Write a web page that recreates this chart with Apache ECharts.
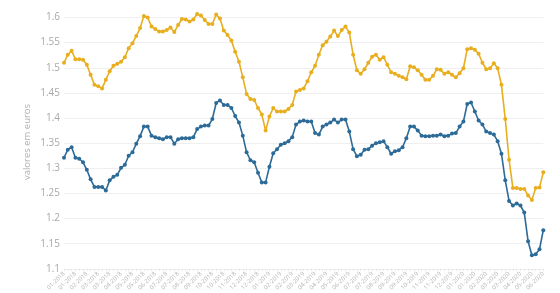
<!DOCTYPE html>
<html><head><meta charset="utf-8">
<script src="https://cdn.jsdelivr.net/npm/echarts@6/dist/echarts.min.js"></script>
<style>html,body{margin:0;padding:0;background:#fff}#c{width:560px;height:293px}</style>
</head><body><div id="c"></div>
<script>
// weekly dates (first week of 2018 onwards)
const startDate = [2018, 0, 1];
const nWeeks = 127;
const categories = [];
for (let i = 0; i < nWeeks; i++) {
  const d = new Date(Date.UTC(startDate[0], startDate[1], startDate[2] + 7 * i));
  categories.push(String(d.getUTCMonth() + 1).padStart(2, '0') + '-' + d.getUTCFullYear());
}

const seriesOrange = [
  1.510,1.526,1.534,1.517,1.517,1.516,1.506,1.486,1.466,1.463,
  1.459,1.476,1.493,1.504,1.508,1.512,1.521,1.539,1.549,1.563,
  1.579,1.603,1.600,1.582,1.577,1.572,1.572,1.575,1.580,1.571,
  1.585,1.597,1.596,1.592,1.596,1.607,1.604,1.595,1.587,1.587,
  1.606,1.598,1.574,1.565,1.554,1.532,1.512,1.481,1.448,1.438,
  1.436,1.420,1.407,1.375,1.403,1.420,1.413,1.413,1.413,1.418,
  1.426,1.453,1.456,1.459,1.473,
  1.491,1.504,1.526,1.545,1.552,1.562,1.574,1.563,1.575,1.582,
  1.570,1.526,1.495,1.488,1.497,1.510,1.522,1.526,1.516,1.521,
  1.506,1.491,1.488,1.484,1.481,1.477,1.503,1.501,1.495,1.486,
  1.476,1.476,1.484,1.497,1.496,1.488,1.491,1.486,1.481,1.489,
  1.499,1.537,1.539,1.536,1.528,1.510,1.497,1.499,1.509,1.499,
  1.466,1.398,1.317,1.261,1.261,1.259,1.259,1.246,1.237,1.261,
  1.262,1.292
];
const seriesBlue = [
  1.321,1.337,1.342,1.321,1.319,1.312,1.297,1.278,1.263,1.263,
  1.263,1.256,1.276,1.283,1.287,1.301,1.307,1.325,1.332,1.349,
  1.364,1.383,1.383,1.365,1.362,1.360,1.358,1.362,1.362,1.349,
  1.358,1.360,1.360,1.360,1.362,1.378,1.383,1.385,1.385,1.398,
  1.430,1.435,1.426,1.426,1.420,1.404,1.391,1.365,1.332,1.316,
  1.312,1.291,1.272,1.272,1.303,1.330,1.338,1.347,1.350,1.354,
  1.362,1.387,1.393,1.395,1.393,
  1.393,1.370,1.367,1.383,1.387,1.391,1.397,1.391,1.397,1.397,
  1.373,1.338,1.324,1.327,1.337,1.338,1.345,1.350,1.352,1.354,
  1.342,1.329,1.334,1.336,1.342,1.360,1.383,1.383,1.375,1.365,
  1.364,1.364,1.365,1.365,1.367,1.364,1.365,1.369,1.370,1.383,
  1.393,1.428,1.431,1.413,1.395,1.387,1.373,1.370,1.367,1.354,
  1.329,1.276,1.235,1.226,1.230,1.226,1.212,1.155,1.127,1.129,
  1.139,1.177
];
const yTicks = {min: 1.1, max: 1.6, interval: 0.05};
const yName = 'valores em euros';

const chart = echarts.init(document.getElementById('c'), null, {renderer: 'canvas'});
const font = '"Open Sans", sans-serif';
chart.setOption({
  animation: false,
  backgroundColor: '#fff',
  grid: {left: 64, right: 16.7, top: 17.5, bottom: 23.5, containLabel: false},
  xAxis: {
    type: 'category', data: categories, boundaryGap: false,
    axisLine: {show: false},
    axisTick: {show: true, interval: 0, length: 2, lineStyle: {color: '#e4e4e4'}},
    axisLabel: {interval: 2, rotate: 45, fontSize: 6, color: '#b5b5b5', fontFamily: font, margin: 4},
    splitLine: {show: false}
  },
  yAxis: {
    type: 'value', min: yTicks.min, max: yTicks.max, interval: yTicks.interval,
    axisLine: {show: false}, axisTick: {show: false},
    axisLabel: {fontSize: 10, color: '#a8a8a8', fontFamily: font, margin: 4,
      formatter: v => String(parseFloat(v.toFixed(2)))},
    splitLine: {lineStyle: {color: '#efefef', width: 1}}
  },
  graphic: [{
    type: 'text', x: 27, y: 142, rotation: Math.PI / 2,
    style: {text: yName, fill: '#b0b0b0', font: '9.5px "Open Sans", sans-serif', align: 'center', verticalAlign: 'middle'}
  }],
  series: [
    {type: 'line', data: seriesOrange, symbol: 'circle', symbolSize: 4, showSymbol: true, showAllSymbol: true,
      lineStyle: {color: '#E8AE1E', width: 1.6}, itemStyle: {color: '#E8AE1E'}, clip: false},
    {type: 'line', data: seriesBlue, symbol: 'circle', symbolSize: 4, showSymbol: true, showAllSymbol: true,
      lineStyle: {color: '#2C6B97', width: 1.6}, itemStyle: {color: '#2C6B97'}, clip: false}
  ]
});
</script></body></html>
